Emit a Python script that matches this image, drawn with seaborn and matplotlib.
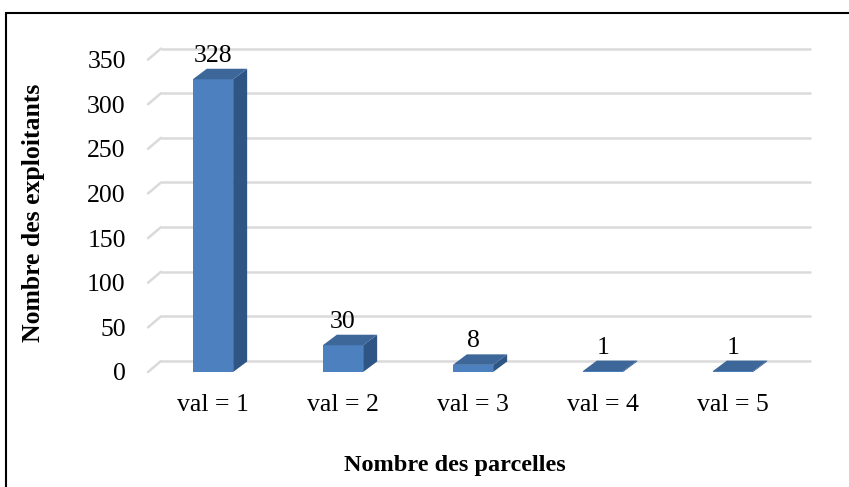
import matplotlib
matplotlib.use('Agg')
import matplotlib.pyplot as plt
from matplotlib.patches import Polygon, Rectangle
import pandas as pd
import seaborn as sns

categories = ['val = 1', 'val = 2', 'val = 3', 'val = 4', 'val = 5']
counts = [328, 30, 8, 1, 1]
y_ticks = [0, 50, 100, 150, 200, 250, 300, 350]

sns.set_theme(style='white')
plt.rcParams['font.family'] = ['Liberation Serif', 'DejaVu Serif']
plt.rcParams['text.color'] = 'black'

df = pd.DataFrame({'parcelles': categories, 'exploitants': counts})

fig = plt.figure(figsize=(8.49, 4.87), dpi=100)
ax = fig.add_axes([148 / 849, 1 - 372 / 487, 650 / 849, 312.4 / 487])

front = '#4C80BE'
side = '#2F5584'
top = '#3D6699'

sns.barplot(data=df, x='parcelles', y='exploitants', color=front, width=0.31,
            saturation=1, linewidth=0, ax=ax, zorder=3)
ax.set_ylim(0, 350)
ax.set_xlim(-0.5, 4.5)

# depth of the fake 3d effect, in data units
px_x = 1 / 130
px_y = 350 / 312.4
gdx, gdy = 13 * px_x, 11 * px_y
bdx, bdy = 14 * px_x, 10.5 * px_y

# back wall gridlines with the slanted floor edge on the left
for v in y_ticks:
    ax.plot([-0.5 + gdx, 4.5 + gdx], [v + gdy, v + gdy], color='#DADADA',
            lw=1.8, clip_on=False, zorder=1, solid_capstyle='butt')
    ax.plot([-0.5, -0.5 + gdx], [v, v + gdy], color='#DADADA',
            lw=1.8, clip_on=False, zorder=1)

# side and top faces of every bar
for p in ax.patches:
    x0 = p.get_x()
    x1 = x0 + p.get_width()
    h = p.get_height()
    ax.add_patch(Polygon([(x1, 0), (x1 + bdx, bdy), (x1 + bdx, h + bdy), (x1, h)],
                         closed=True, fc=side, ec='none', zorder=3, clip_on=False))
    ax.add_patch(Polygon([(x0, h), (x1, h), (x1 + bdx, h + bdy), (x0 + bdx, h + bdy)],
                         closed=True, fc=top, ec='none', zorder=3, clip_on=False))

ax.bar_label(ax.containers[0], labels=[str(c) for c in counts], padding=9,
             fontsize=18.5, color='black')

sns.despine(ax=ax, left=True, bottom=True)
ax.set_yticks(y_ticks)
ax.tick_params(axis='y', length=0, pad=16, labelsize=18.5, colors='black')
ax.tick_params(axis='x', length=0, pad=16, labelsize=18.5, colors='black')
ax.set_xlabel('')
ax.set_ylabel('')

fig.text(34 / 849, 1 - 213 / 487, 'Nombre des exploitants', rotation=90,
         ha='center', va='center', fontsize=18.5, fontweight='bold')
fig.text(455 / 849, 1 - 465 / 487, 'Nombre des parcelles',
         ha='center', va='center', fontsize=17.5, fontweight='bold')

fig.add_artist(Rectangle((5.5 / 849, -0.1), 1.0, (487 - 12.5) / 487 + 0.1,
                         transform=fig.transFigure, fill=False, ec='black', lw=1.5))

fig.savefig('out.png', dpi=100, facecolor='white')
